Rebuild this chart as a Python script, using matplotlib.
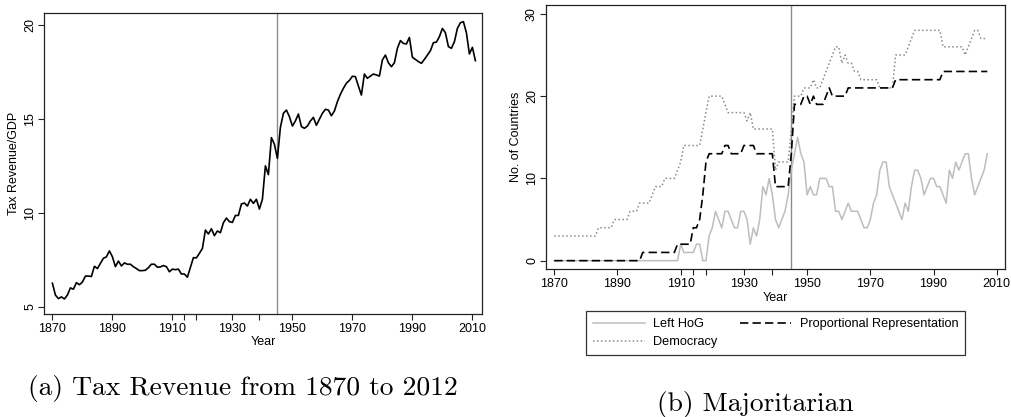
import matplotlib
matplotlib.use("Agg")
import matplotlib.pyplot as plt

plt.rcParams['font.family'] = ['Liberation Sans', 'DejaVu Sans']

# ---- panel (a): tax revenue / GDP, 1870-2011
tax_years = list(range(1870, 2012))
tax_gdp = [
    6.25, 5.62, 5.43, 5.52, 5.41, 5.62, 6.00, 5.93, 6.28, 6.17,
    6.31, 6.63, 6.63, 6.61, 7.15, 7.03, 7.31, 7.58, 7.65, 7.97,
    7.66, 7.13, 7.43, 7.17, 7.33, 7.26, 7.26, 7.13, 7.03, 6.92,
    6.92, 6.94, 7.08, 7.26, 7.26, 7.10, 7.12, 7.19, 7.13, 6.86,
    7.00, 6.97, 7.00, 6.74, 6.74, 6.57, 7.10, 7.61, 7.60, 7.84,
    8.10, 9.08, 8.87, 9.15, 8.78, 9.03, 8.94, 9.47, 9.72, 9.53,
    9.49, 9.86, 9.86, 10.47, 10.52, 10.36, 10.72, 10.50, 10.72, 10.20,
    10.72, 12.50, 12.03, 14.00, 13.65, 12.90, 14.55, 15.30, 15.47, 15.12,
    14.62, 14.89, 15.26, 14.59, 14.50, 14.62, 14.89, 15.08, 14.66, 14.98,
    15.30, 15.51, 15.47, 15.17, 15.42, 15.92, 16.31, 16.63, 16.90, 17.05,
    17.27, 17.25, 16.75, 16.27, 17.39, 17.16, 17.28, 17.39, 17.34, 17.28,
    18.14, 18.40, 17.99, 17.78, 17.99, 18.76, 19.17, 19.02, 18.99, 19.34,
    18.28, 18.17, 18.05, 17.96, 18.17, 18.40, 18.63, 19.06, 19.09, 19.38,
    19.82, 19.59, 18.85, 18.76, 19.11, 19.82, 20.12, 20.18, 19.59, 18.46,
    18.81, 18.10,
]

# ---- panel (b): counts of countries, 1870-2007
count_years = list(range(1870, 2008))
left_hog = [
    0, 0, 0, 0, 0, 0, 0, 0, 0, 0,
    0, 0, 0, 0, 0, 0, 0, 0, 0, 0,
    0, 0, 0, 0, 0, 0, 0, 0, 0, 0,
    0, 0, 0, 0, 0, 0, 0, 0, 0, 0,
    2, 1, 1, 1, 1, 2, 2, 0, 0, 3,
    4, 6, 5, 4, 6, 6, 5, 4, 4, 6,
    6, 5, 2, 4, 3, 5, 9, 8, 10, 8,
    5, 4, 5, 6, 8, 11, 13, 15, 13, 12,
    8, 9, 8, 8, 10, 10, 10, 9, 9, 6,
    6, 5, 6, 7, 6, 6, 6, 5, 4, 4,
    5, 7, 8, 11, 12, 12, 9, 8, 7, 6,
    5, 7, 6, 9, 11, 11, 10, 8, 9, 10,
    10, 9, 9, 8, 7, 11, 10, 12, 11, 12,
    13, 13, 10, 8, 9, 10, 11, 13,
]
democracy = [
    3, 3, 3, 3, 3, 3, 3, 3, 3, 3,
    3, 3, 3, 3, 4, 4, 4, 4, 4, 5,
    5, 5, 5, 5, 6, 6, 6, 7, 7, 7,
    7, 8, 9, 9, 9, 10, 10, 10, 10, 11,
    12, 14, 14, 14, 14, 14, 14, 16, 18, 20,
    20, 20, 20, 20, 19, 18, 18, 18, 18, 18,
    18, 17, 18, 16, 16, 16, 16, 16, 16, 16,
    11, 12, 12, 12, 12, 16, 20, 20, 20, 21,
    21, 21, 22, 21, 21, 22, 23, 24, 25, 26,
    26, 24, 25, 24, 24, 23, 23, 22, 22, 22,
    22, 22, 22, 21, 21, 21, 21, 21, 25, 25,
    25, 25, 26, 27, 28, 28, 28, 28, 28, 28,
    28, 28, 28, 26, 26, 26, 26, 26, 26, 26,
    25, 26, 27, 28, 28, 27, 27, 27,
]
prop_rep = [
    0, 0, 0, 0, 0, 0, 0, 0, 0, 0,
    0, 0, 0, 0, 0, 0, 0, 0, 0, 0,
    0, 0, 0, 0, 0, 0, 0, 0, 1, 1,
    1, 1, 1, 1, 1, 1, 1, 1, 1, 2,
    2, 2, 2, 2, 4, 4, 5, 8, 12, 13,
    13, 13, 13, 13, 14, 14, 13, 13, 13, 13,
    14, 14, 14, 14, 13, 13, 13, 13, 13, 13,
    9, 9, 9, 9, 9, 13, 19, 19, 19, 20,
    20, 19, 20, 19, 19, 19, 20, 21, 20, 20,
    20, 20, 20, 21, 21, 21, 21, 21, 21, 21,
    21, 21, 21, 21, 21, 21, 21, 21, 22, 22,
    22, 22, 22, 22, 22, 22, 22, 22, 22, 22,
    22, 22, 22, 23, 23, 23, 23, 23, 23, 23,
    23, 23, 23, 23, 23, 23, 23, 23,
]

major_ticks = [1870, 1890, 1910, 1930, 1950, 1970, 1990, 2010]
minor_ticks = [1914, 1918, 1939]
war_year = 1945

fig = plt.figure(figsize=(10.11, 4.17), dpi=100)
W, H = 1011, 417


def px_axes(left, top, right, bottom):
    return fig.add_axes([left / W, 1 - bottom / H, (right - left) / W, (bottom - top) / H])


def style(ax):
    for s in ax.spines.values():
        s.set_color('#222222')
        s.set_linewidth(0.9)
    ax.set_xticks(major_ticks)
    ax.set_xticks(minor_ticks, minor=True)
    ax.tick_params(axis='both', which='both', direction='out', length=4.5,
                   width=0.8, color='#222222', labelsize=9, pad=2)
    ax.tick_params(axis='y', pad=1)
    for lab in ax.get_yticklabels():
        lab.set_rotation(90)
        lab.set_va('center')
    ax.axvline(war_year, color='#8c8c8c', lw=1.0, zorder=1)


# (a)
ax1 = px_axes(44, 13, 482, 314)
ax1.plot(tax_years, tax_gdp, color='black', lw=1.2, zorder=3)
ax1.set_xlim(1867.2, 2013.2)
ax1.set_ylim(4.61, 20.64)
ax1.set_yticks([5, 10, 15, 20])
style(ax1)
ax1.set_xlabel('Year', fontsize=9, labelpad=1)
ax1.set_ylabel('Tax Revenue/GDP', fontsize=9, labelpad=3)

# (b)
ax2 = px_axes(545.7, 5, 1005, 269.3)
h1, = ax2.plot(count_years, left_hog, color='#bdbdbd', lw=1.1, label='Left HoG', zorder=2)
h2, = ax2.plot(count_years, democracy, color='#8a8a8a', lw=1.1, ls=(0, (1, 1.6)),
               label='Democracy', zorder=3)
h3, = ax2.plot(count_years, prop_rep, color='black', lw=1.2, ls=(0, (5, 2.5)),
               label='Proportional Representation', zorder=4)
ax2.set_xlim(1867.3, 2012.6)
ax2.set_ylim(-1.05, 31.08)
ax2.set_yticks([0, 10, 20, 30])
style(ax2)
ax2.set_xlabel('Year', fontsize=9, labelpad=1)
ax2.set_ylabel('No. of Countries', fontsize=9, labelpad=3)

leg = fig.legend(handles=[h1, h2, h3], ncol=2, loc='center',
                 bbox_to_anchor=(775.8 / W, 1 - 333.3 / H),
                 fontsize=9.2, frameon=True, fancybox=False, handlelength=4.0,
                 columnspacing=1.8, borderpad=0.55, labelspacing=0.45,
                 handletextpad=0.65)
leg.get_frame().set_edgecolor('black')
leg.get_frame().set_linewidth(0.9)

fig.text(243 / W, 1 - 389 / H, '(a) Tax Revenue from 1870 to 2012',
         family='cmr10', fontsize=19.8, ha='center', va='center')
fig.text(755 / W, 1 - 404 / H, '(b) Majoritarian',
         family='cmr10', fontsize=19.8, ha='center', va='center')

fig.savefig('out.png', dpi=100)
